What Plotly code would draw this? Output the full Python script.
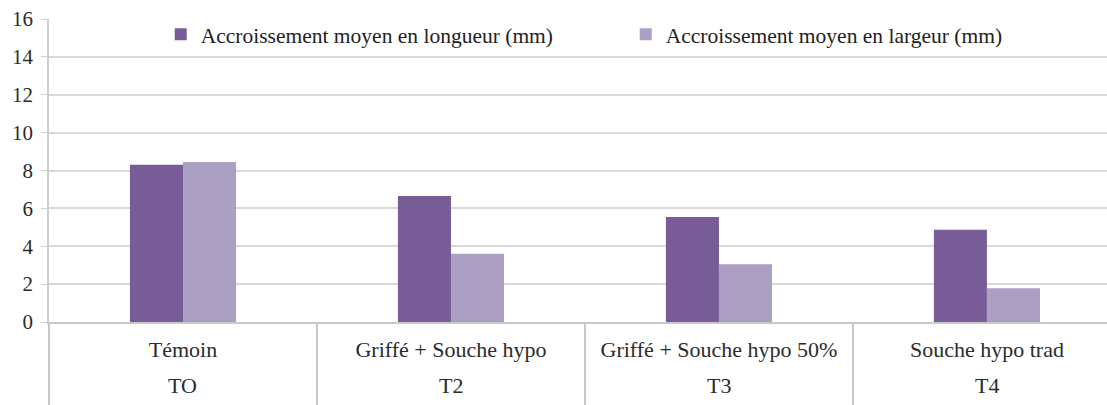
import plotly.graph_objects as go

codes = ["TO", "T2", "T3", "T4"]
treatments = ["Témoin", "Griffé + Souche hypo", "Griffé + Souche hypo 50%", "Souche hypo trad"]
longueur = [8.3, 6.65, 5.55, 4.87]
largeur = [8.45, 3.6, 3.05, 1.78]
series_names = ["Accroissement moyen en longueur (mm)", "Accroissement moyen en largeur (mm)"]
y_ticks = [0, 2, 4, 6, 8, 10, 12, 14, 16]

FONT = "Liberation Serif"
TXT = "#2b2b2b"

fig = go.Figure()
fig.add_trace(go.Bar(x=treatments, y=longueur, name=series_names[0], marker_color="#775c97", marker_line_width=0))
fig.add_trace(go.Bar(x=treatments, y=largeur, name=series_names[1], marker_color="#ac9fc4", marker_line_width=0))

for c, t in zip(codes, treatments):
    fig.add_annotation(x=t, y=-0.208, xref="x", yref="paper", text=c, showarrow=False,
                       xanchor="center", yanchor="middle", font=dict(family=FONT, size=22, color=TXT))

fig.update_layout(
    width=1107, height=405,
    margin=dict(l=49, r=0, t=19, b=83),
    paper_bgcolor="white", plot_bgcolor="white",
    barmode="group", bargap=0.604, bargroupgap=0,
    font=dict(family=FONT, size=21, color=TXT),
    legend=dict(orientation="h", x=0.1056, xanchor="left", y=0.95, yanchor="middle",
                font=dict(family=FONT, size=21.5, color="#222222"),
                entrywidth=420, entrywidthmode="pixels", bgcolor="rgba(0,0,0,0)"),
    showlegend=True,
)
fig.update_yaxes(range=[0, 16], tickvals=y_ticks, showgrid=True, gridcolor="#d9d9d9", gridwidth=2,
                 showline=True, linecolor="#d0d0d0", linewidth=1.5, ticks="outside", ticklen=6,
                 tickcolor="#d0d0d0", tickfont=dict(family=FONT, size=21, color=TXT), zeroline=False,
                 ticklabelstandoff=4, automargin=False)
fig.update_xaxes(type="category", range=[-0.5, 3.448], showline=True, linecolor="#c8c8c8", linewidth=1.5,
                 tickson="boundaries", ticks="outside", ticklen=85, tickcolor="#c8c8c8", tickwidth=1.5,
                 ticklabelstandoff=7, automargin=False,
                 tickfont=dict(family=FONT, size=22, color=TXT))

fig.write_html("out.html", config={"displayModeBar": False},
               post_script="document.body.style.margin='0px';")
